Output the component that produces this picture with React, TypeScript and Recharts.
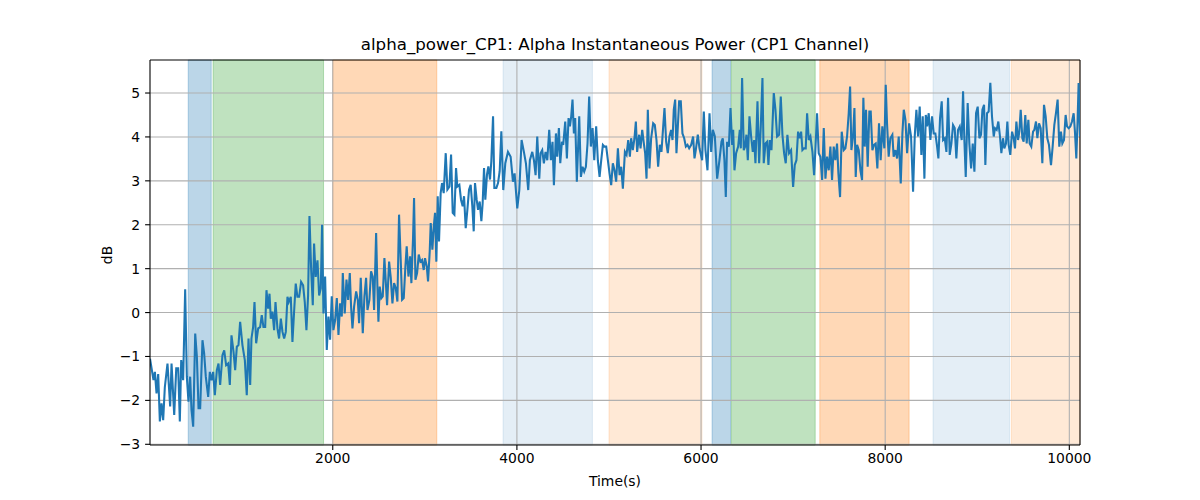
import { LineChart, Line, XAxis, YAxis, ReferenceArea, ReferenceLine } from "recharts";

// [time (s), alpha power (dB)]
const alphaSamples: [number, number][] = [
    [15, -1.05], [53, -1.54], [68, -1.35], [86, -1.84], [104, -1.4], [122, -2.48], [140, -2.07], [158, -2.45],
    [176, -1.7], [205, -1.16], [234, -2.14], [249, -1.16], [278, -2.33], [300, -1.27], [321, -1.27], [339, -2.48],
    [354, -1.08], [375, -1.54], [397, 0.53], [415, -1.46], [433, -2.03], [451, -1.46], [466, -2.22], [484, -2.6],
    [506, -0.48], [524, -1.0], [542, -2.18], [560, -2.18], [585, -0.63], [603, -0.93], [621, -1.46], [647, -1.92],
    [665, -1.35], [683, -1.54], [701, -1.35], [719, -1.88], [741, -1.31], [759, -1.16], [777, -1.65], [802, -0.97],
    [821, -0.86], [842, -1.2], [864, -1.16], [882, -1.65], [900, -0.52], [922, -0.89], [940, -1.31], [958, -0.78],
    [976, -0.74], [994, -0.21], [1019, -0.74], [1045, -1.08], [1066, -1.88], [1085, -0.59], [1103, -1.65], [1117, -0.59],
    [1135, -0.33], [1150, 0.24], [1168, -0.7], [1190, -0.36], [1211, -0.33], [1229, -0.06], [1247, -0.33], [1266, -0.33],
    [1280, 0.51], [1298, 0.09], [1313, 0.43], [1327, -0.14], [1345, 0.02], [1363, -0.4], [1378, 0.24], [1399, -0.36],
    [1417, -0.59], [1436, -0.14], [1454, -0.44], [1472, -0.59], [1490, -0.44], [1508, 0.36], [1522, 0.24], [1544, 0.36],
    [1562, -0.67], [1580, 0.02], [1598, 0.66], [1616, 0.36], [1635, 0.36], [1656, 0.7], [1678, 0.62], [1696, 0.24],
    [1714, -0.4], [1732, 0.39], [1747, 2.2], [1765, 1.0], [1783, 0.17], [1797, 1.57], [1815, 0.81], [1834, 1.19],
    [1852, 0.39], [1870, 0.55], [1884, 2.0], [1899, -0.02], [1917, 0.82], [1935, -0.85], [1953, -0.09], [1971, -0.62],
    [1989, 0.37], [2007, -0.4], [2026, -0.17], [2044, 0.33], [2062, -0.51], [2080, 0.21], [2098, -0.09], [2109, 0.9],
    [2130, -0.02], [2149, 0.75], [2167, 0.29], [2185, 0.9], [2199, 0.14], [2214, -0.36], [2232, 0.14], [2254, 0.48],
    [2272, 0.29], [2286, -0.24], [2304, 0.79], [2326, -0.47], [2344, 0.37], [2362, 0.79], [2377, 0.06], [2398, 0.29],
    [2416, 0.94], [2434, 0.82], [2449, 0.06], [2471, 1.81], [2485, 0.59], [2496, -0.21], [2510, 0.59], [2528, 0.33],
    [2543, 0.37], [2561, 1.24], [2579, 0.59], [2590, 0.17], [2612, 1.16], [2630, 0.79], [2648, 0.21], [2666, 0.67],
    [2684, 0.56], [2702, 0.25], [2720, 2.23], [2738, 1.2], [2753, 0.29], [2771, 0.33], [2789, 1.05], [2803, 1.51],
    [2822, 0.82], [2840, 1.28], [2854, 0.67], [2872, 1.7], [2883, 2.61], [2898, 0.75], [2916, 0.9], [2934, 1.32],
    [2952, 1.16], [2970, 1.2], [2988, 0.97], [3002, 1.24], [3021, 1.05], [3035, 0.71], [3053, 1.39], [3064, 2.04],
    [3082, 1.43], [3097, 1.96], [3111, 2.27], [3125, 1.16], [3140, 2.65], [3154, 1.62], [3172, 2.72], [3187, 2.95],
    [3205, 2.72], [3227, 3.63], [3245, 2.8], [3267, 2.87], [3285, 3.6], [3303, 2.27], [3321, 2.23], [3339, 3.29],
    [3353, 2.87], [3375, 2.91], [3393, 2.57], [3411, 2.42], [3426, 2.65], [3444, 1.92], [3462, 2.34], [3480, 2.8],
    [3498, 2.91], [3516, 2.42], [3531, 1.85], [3545, 2.95], [3563, 2.57], [3578, 2.34], [3596, 2.53], [3614, 2.08],
    [3628, 2.49], [3643, 3.29], [3657, 2.57], [3675, 3.14], [3690, 3.33], [3708, 3.03], [3722, 3.44], [3741, 4.47],
    [3755, 2.84], [3777, 2.84], [3795, 2.95], [3813, 3.22], [3831, 4.13], [3852, 2.79], [3874, 3.4], [3903, 3.66],
    [3932, 3.55], [3957, 2.98], [3975, 3.17], [4004, 2.37], [4026, 2.79], [4051, 3.93], [4076, 3.66], [4098, 3.4],
    [4123, 2.79], [4141, 3.47], [4167, 3.66], [4185, 3.47], [4203, 3.13], [4221, 4.01], [4243, 3.05], [4257, 3.63],
    [4275, 3.7], [4293, 3.4], [4311, 3.66], [4330, 3.47], [4351, 4.16], [4369, 3.47], [4387, 3.89], [4402, 2.9],
    [4424, 4.08], [4438, 3.55], [4456, 4.2], [4471, 3.4], [4489, 3.89], [4503, 3.82], [4525, 4.35], [4543, 3.51],
    [4561, 4.43], [4576, 4.24], [4590, 4.47], [4604, 4.85], [4619, 4.08], [4633, 4.43], [4651, 2.98], [4677, 4.47],
    [4695, 3.09], [4713, 3.32], [4731, 3.21], [4749, 3.32], [4767, 3.85], [4785, 4.92], [4803, 3.78], [4822, 4.2],
    [4840, 3.47], [4861, 4.24], [4879, 3.47], [4898, 3.09], [4916, 3.47], [4934, 3.82], [4952, 3.78], [4970, 3.78],
    [4988, 3.47], [5006, 3.17], [5024, 2.9], [5042, 3.4], [5060, 3.24], [5078, 2.98], [5097, 3.74], [5115, 3.13],
    [5133, 3.32], [5151, 2.82], [5173, 3.66], [5191, 3.59], [5209, 3.93], [5227, 3.55], [5241, 3.97], [5259, 3.7],
    [5277, 3.97], [5292, 4.35], [5306, 3.66], [5328, 4.05], [5343, 3.74], [5361, 4.16], [5379, 3.85], [5393, 3.63],
    [5408, 3.05], [5422, 4.62], [5440, 3.28], [5458, 3.97], [5480, 4.31], [5498, 4.27], [5516, 3.93], [5534, 3.32],
    [5552, 3.82], [5570, 3.66], [5589, 4.24], [5603, 4.66], [5621, 3.89], [5639, 3.63], [5657, 4.01], [5675, 4.16],
    [5690, 3.93], [5704, 4.62], [5719, 4.85], [5733, 3.63], [5748, 4.24], [5762, 4.81], [5780, 4.81], [5798, 4.08],
    [5817, 3.97], [5835, 3.78], [5853, 3.82], [5871, 3.74], [5893, 3.82], [5914, 4.01], [5929, 3.51], [5943, 3.7],
    [5965, 4.05], [5983, 3.74], [6012, 3.47], [6030, 4.58], [6048, 3.7], [6070, 3.24], [6092, 4.54], [6110, 3.66],
    [6128, 4.16], [6150, 4.01], [6175, 3.05], [6200, 3.47], [6222, 3.89], [6236, 3.97], [6254, 3.47], [6269, 2.63],
    [6283, 3.89], [6302, 3.78], [6320, 4.66], [6338, 3.82], [6349, 4.16], [6363, 3.24], [6381, 3.63], [6403, 3.78],
    [6421, 4.16], [6432, 3.74], [6446, 5.34], [6464, 3.7], [6479, 3.78], [6493, 4.05], [6508, 3.47], [6526, 4.47],
    [6544, 4.01], [6562, 3.66], [6577, 3.93], [6591, 3.4], [6613, 4.81], [6631, 3.4], [6649, 4.24], [6667, 5.34],
    [6681, 3.4], [6700, 3.85], [6718, 3.89], [6732, 3.36], [6747, 3.93], [6765, 3.7], [6790, 5.0], [6808, 4.62],
    [6826, 4.01], [6848, 4.05], [6866, 4.92], [6884, 4.05], [6902, 3.63], [6920, 3.4], [6938, 4.05], [6956, 3.63],
    [6978, 3.7], [7000, 2.86], [7018, 3.36], [7036, 3.47], [7054, 4.12], [7072, 3.97], [7087, 4.12], [7101, 3.7],
    [7119, 3.74], [7137, 3.74], [7152, 4.54], [7170, 3.93], [7188, 4.01], [7210, 3.66], [7228, 3.13], [7242, 3.7],
    [7260, 4.54], [7278, 3.63], [7296, 3.55], [7315, 3.02], [7333, 4.2], [7351, 3.05], [7369, 3.55], [7387, 3.24],
    [7405, 3.78], [7423, 3.02], [7441, 3.78], [7459, 3.47], [7477, 3.85], [7492, 3.17], [7510, 2.63], [7528, 4.12],
    [7550, 3.7], [7568, 3.74], [7586, 4.01], [7604, 4.54], [7619, 5.15], [7633, 3.7], [7651, 4.01], [7666, 4.66],
    [7680, 3.09], [7695, 3.82], [7713, 3.7], [7731, 3.24], [7749, 3.02], [7763, 4.89], [7778, 3.78], [7792, 4.62],
    [7810, 3.32], [7828, 4.58], [7843, 4.58], [7861, 3.7], [7879, 3.82], [7897, 3.85], [7915, 3.28], [7933, 4.31],
    [7951, 3.47], [7969, 4.24], [7991, 3.74], [8006, 5.19], [8020, 4.31], [8038, 3.55], [8056, 3.97], [8078, 4.05],
    [8092, 3.55], [8111, 3.7], [8129, 3.51], [8147, 4.01], [8169, 2.94], [8187, 4.08], [8202, 4.62], [8220, 4.39],
    [8238, 3.63], [8260, 4.31], [8281, 4.01], [8303, 2.75], [8321, 4.01], [8339, 4.62], [8357, 4.01], [8375, 4.69],
    [8393, 3.59], [8408, 4.47], [8426, 3.05], [8441, 4.5], [8455, 4.24], [8473, 4.54], [8491, 3.93], [8509, 4.47],
    [8527, 4.08], [8545, 4.08], [8564, 3.78], [8578, 3.51], [8596, 4.43], [8614, 4.81], [8629, 3.93], [8647, 3.97],
    [8665, 3.66], [8683, 4.89], [8701, 3.59], [8719, 3.85], [8737, 4.27], [8755, 4.2], [8773, 3.51], [8791, 4.16],
    [8810, 4.24], [8831, 3.93], [8846, 5.04], [8860, 3.93], [8875, 3.09], [8896, 4.77], [8914, 3.85], [8933, 3.28],
    [8951, 3.85], [8969, 3.21], [8987, 4.54], [9005, 4.69], [9023, 3.97], [9041, 4.05], [9056, 4.62], [9074, 4.73],
    [9088, 3.36], [9106, 4.54], [9124, 4.58], [9142, 5.23], [9160, 4.47], [9179, 4.01], [9193, 4.2], [9211, 4.16],
    [9229, 4.35], [9247, 4.01], [9262, 3.63], [9280, 3.97], [9294, 3.74], [9312, 3.85], [9327, 4.35], [9341, 3.82],
    [9359, 3.59], [9378, 4.12], [9396, 3.97], [9410, 3.74], [9425, 4.35], [9443, 3.93], [9457, 4.12], [9472, 4.62],
    [9490, 3.97], [9504, 3.89], [9522, 4.5], [9537, 3.85], [9555, 4.39], [9569, 3.85], [9587, 3.78], [9606, 4.12],
    [9620, 4.16], [9638, 4.35], [9653, 3.97], [9671, 4.31], [9689, 4.2], [9707, 3.4], [9725, 4.73], [9743, 4.47],
    [9761, 3.97], [9779, 3.82], [9801, 3.36], [9819, 3.78], [9837, 4.27], [9855, 4.54], [9873, 4.85], [9891, 3.78],
    [9909, 4.12], [9924, 3.85], [9942, 3.93], [9960, 4.5], [9975, 4.24], [9993, 4.2], [10011, 4.24], [10029, 4.35],
    [10047, 4.54], [10061, 4.12], [10076, 3.51], [10090, 4.39], [10101, 5.23], [10116, 4.01],
];

// shaded task periods: [start, end, colour, opacity]
const spans: [number, number, string, number][] = [
    [430, 680, "#1f77b4", 0.3],
    [700, 1900, "#2ca02c", 0.3],
    [2000, 3130, "#ff7f0e", 0.3],
    [3850, 4820, "#1f77b4", 0.12],
    [5000, 6010, "#ff7f0e", 0.17],
    [6120, 6320, "#1f77b4", 0.3],
    [6330, 7240, "#2ca02c", 0.3],
    [7290, 8260, "#ff7f0e", 0.3],
    [8520, 9350, "#1f77b4", 0.12],
    [9370, 10116, "#ff7f0e", 0.17],
];

const xTicks = [2000, 4000, 6000, 8000, 10000];
const yTicks = [-3, -2, -1, 0, 1, 2, 3, 4, 5];
const xDomain: [number, number] = [15, 10116];
const yDomain: [number, number] = [-3.016, 5.752];

const data = alphaSamples.map(([t, db]) => ({ t, db }));

const font = "'DejaVu Sans', sans-serif";
const minus = (v: number) => String(v).replace("-", "\u2212");

export default function App() {
    return (
        <div style={{ position: "absolute", left: 0, top: 0, width: 1200, height: 500, background: "#fff", fontFamily: font }}>
            <div style={{ position: "absolute", left: 150, width: 930, top: 35, textAlign: "center", fontSize: 16.67, lineHeight: "20px" }}>
                alpha_power_CP1: Alpha Instantaneous Power (CP1 Channel)
            </div>
            <div style={{ position: "absolute", left: 150, width: 930, top: 472, textAlign: "center", fontSize: 13.9, lineHeight: "18px" }}>
                Time(s)
            </div>
            <div
                style={{
                    position: "absolute",
                    left: 97,
                    top: 245,
                    width: 20,
                    height: 20,
                    fontSize: 13.9,
                    lineHeight: "20px",
                    textAlign: "center",
                    transform: "rotate(-90deg)",
                }}
            >
                dB
            </div>
            <LineChart width={1200} height={500} data={data} margin={{ top: 60, right: 120, bottom: 25, left: 100 }}>
                <XAxis
                    dataKey="t"
                    type="number"
                    domain={xDomain}
                    ticks={xTicks}
                    allowDataOverflow
                    height={30}
                    tickSize={4.9}
                    tickMargin={3}
                    axisLine={{ stroke: "#000", strokeWidth: 1.1 }}
                    tickLine={{ stroke: "#000", strokeWidth: 1.1 }}
                    tick={{ fill: "#000", fontSize: 13.9, fontFamily: font }}
                />
                <YAxis
                    type="number"
                    domain={yDomain}
                    ticks={yTicks}
                    allowDataOverflow
                    width={50}
                    tickSize={4.9}
                    tickMargin={4.9}
                    tickFormatter={minus}
                    axisLine={{ stroke: "#000", strokeWidth: 1.1 }}
                    tickLine={{ stroke: "#000", strokeWidth: 1.1 }}
                    tick={{ fill: "#000", fontSize: 13.9, fontFamily: font }}
                />
                {spans.map(([x1, x2, color, op], i) => (
                    <ReferenceArea
                        key={"span" + i}
                        x1={x1}
                        x2={x2}
                        fill={color}
                        fillOpacity={op}
                        stroke={color}
                        strokeOpacity={op}
                        strokeWidth={1}
                    />
                ))}
                {yTicks.map((y) => (
                    <ReferenceLine key={"gy" + y} y={y} stroke="#b0b0b0" strokeWidth={1.1} />
                ))}
                {xTicks.map((x) => (
                    <ReferenceLine key={"gx" + x} x={x} stroke="#b0b0b0" strokeWidth={1.1} />
                ))}
                <ReferenceLine y={yDomain[1]} stroke="#000" strokeWidth={1.1} />
                <ReferenceLine x={xDomain[1]} stroke="#000" strokeWidth={1.1} />
                <Line
                    type="linear"
                    dataKey="db"
                    stroke="#1f77b4"
                    strokeWidth={2.08}
                    dot={false}
                    isAnimationActive={false}
                />
            </LineChart>
        </div>
    );
}
